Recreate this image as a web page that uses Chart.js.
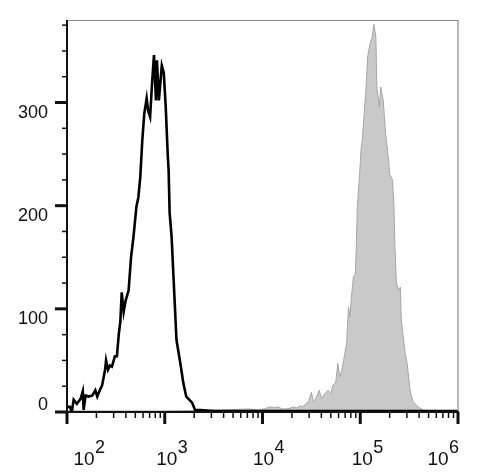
<!DOCTYPE html>
<html>
<head>
<meta charset="utf-8">
<script src="https://cdn.jsdelivr.net/npm/chart.js@4/dist/chart.umd.min.js"></script>
<style>
html,body{margin:0;padding:0;background:#fff;}
#wrap{width:478px;height:472px;}
</style>
</head>
<body>
<div id="wrap"><canvas id="c" width="478" height="472"></canvas></div>
<script>
// Isotype control (black outline)
const blackX = [100,107,112,117,126,138,145,148,155,166,182,195,204,214,229,245,251,263,275,288,
  309,324,339,351,363,380,398,427,452,479,513,537,562,589,617,653,676,708,741,776,
  813,832,871,933,977,1023,1072,1096,1122,1175,1230,1318,1445,1549,1660,1905,2042,2291,3162,10000,
  31623,100000,316228,1000000];
const blackY = [5,5,0,12,8,13,20,2,16,15,16,21,15,20,26,41,50,41,45,44,
  54,54,76,87,116,97,108,118,150,170,199,208,228,263,289,304,292,286,318,346,
  302,341,302,336,329,296,250,234,193,170,130,70,47,28,15,9,2,2,1,1,
  1,1,1,1];
// Stained sample (grey filled)
const greyX = [100,1000,3981,7413,8913,10471,12023,13490,14454,15849,17783,19498,20893,22387,23988,25704,27227,29512,31623,33113,
  35075,38019,40272,43652,46774,50119,52481,56234,58884,61660,64565,67608,72444,75858,78524,81283,85114,89125,91201,93325,
  97724,102329,104713,109648,114815,118850,125893,131826,138038,144544,147911,156675,162181,171791,181970,194984,199526,213796,221309,226464,
  234423,245471,257040,263027,288403,301995,323594,346737,389045,436516,501187,1000000];
const greyY = [1,1,2,3,2,3,5,4,5,3,3,4,5,4,6,5,7,10,19,10,
  13,21,13,18,21,18,26,29,47,34,40,50,66,102,92,112,131,134,163,199,
  225,257,263,289,315,344,357,363,376,363,315,296,315,302,270,244,231,225,199,160,
  125,118,121,89,57,47,21,10,5,2,1,1];
const yTicks = [0,25,50,75,100,125,150,175,200,225,250,275,300,325,350,375];
const yLabels = {0:'0',100:'100',200:'200',300:'300'};
const xDecades = [2,3,4,5,6];

const toPts = (xs, ys) => xs.map((x, i) => ({x: x, y: ys[i]}));

const axesPlugin = {
  id: 'axesPlugin',
  afterDraw(chart) {
    const ctx = chart.ctx;
    const a = chart.chartArea;
    const xs = chart.scales.x, ys = chart.scales.y;
    ctx.save();
    // frame (top and right)
    ctx.strokeStyle = '#8a8a8a';
    ctx.lineWidth = 1.2;
    ctx.beginPath();
    ctx.moveTo(a.left, a.top + 0.5);
    ctx.lineTo(a.right, a.top + 0.5);
    ctx.lineTo(a.right, a.bottom);
    ctx.stroke();
    // left & bottom axes
    ctx.strokeStyle = '#111';
    ctx.lineWidth = 2;
    ctx.beginPath();
    ctx.moveTo(a.left, a.top);
    ctx.lineTo(a.left, a.bottom);
    ctx.lineTo(a.right + 1, a.bottom);
    ctx.stroke();
    // y ticks
    yTicks.forEach(v => {
      const py = ys.getPixelForValue(v);
      const major = v % 100 === 0;
      ctx.lineWidth = major ? 3 : 1.5;
      ctx.beginPath();
      ctx.moveTo(a.left - (major ? 12 : 5), py);
      ctx.lineTo(a.left, py);
      ctx.stroke();
    });
    // x ticks
    xDecades.forEach((d, k) => {
      const base = Math.pow(10, d);
      const px = xs.getPixelForValue(base);
      ctx.lineWidth = 3;
      ctx.beginPath();
      ctx.moveTo(px, a.bottom);
      ctx.lineTo(px, a.bottom + 12);
      ctx.stroke();
      if (k < xDecades.length - 1) {
        for (let m = 2; m <= 9; m++) {
          const mx = xs.getPixelForValue(m * base);
          ctx.lineWidth = 1.5;
          ctx.beginPath();
          ctx.moveTo(mx, a.bottom);
          ctx.lineTo(mx, a.bottom + 6);
          ctx.stroke();
        }
      }
    });
    // y labels
    ctx.fillStyle = '#111';
    ctx.font = '18px "Liberation Sans", Arial, sans-serif';
    ctx.textAlign = 'right';
    ctx.textBaseline = 'alphabetic';
    Object.keys(yLabels).forEach(k => {
      const v = Number(k);
      const py = ys.getPixelForValue(v);
      const by = v === 0 ? py - 2 : py + 15;
      ctx.fillText(yLabels[k], a.left - 19, by);
    });
    // x labels: 10 with superscript exponent
    const shift = {2: 17, 3: 2, 4: 1, 5: 2, 6: -20};
    xDecades.forEach(d => {
      const px = xs.getPixelForValue(Math.pow(10, d)) + shift[d];
      ctx.font = '19px "Liberation Sans", Arial, sans-serif';
      ctx.textAlign = 'center';
      ctx.fillText('10', px, a.bottom + 53);
      const w = ctx.measureText('10').width;
      ctx.font = '18px "Liberation Sans", Arial, sans-serif';
      ctx.textAlign = 'left';
      ctx.fillText(String(d), px + w / 2 + 0.5, a.bottom + 41);
    });
    ctx.restore();
  }
};

new Chart(document.getElementById('c'), {
  type: 'line',
  data: {
    datasets: [
      {
        label: 'Isotype',
        data: toPts(blackX, blackY),
        borderColor: '#000',
        borderWidth: 2.6,
        pointRadius: 0,
        fill: false,
        tension: 0
      },
      {
        label: 'Stained',
        data: toPts(greyX, greyY),
        borderColor: '#a6a6a6',
        backgroundColor: '#c9c9c9',
        borderWidth: 1,
        pointRadius: 0,
        fill: 'origin',
        tension: 0
      }
    ]
  },
  options: {
    responsive: false,
    animation: false,
    events: [],
    layout: {padding: {left: 67, right: 20, top: 20, bottom: 60}},
    plugins: {legend: {display: false}, tooltip: {enabled: false}},
    scales: {
      x: {type: 'logarithmic', min: 100, max: 1000000, display: false},
      y: {type: 'linear', min: 0, max: 380, display: false}
    }
  },
  plugins: [axesPlugin]
});
</script>
</body>
</html>
